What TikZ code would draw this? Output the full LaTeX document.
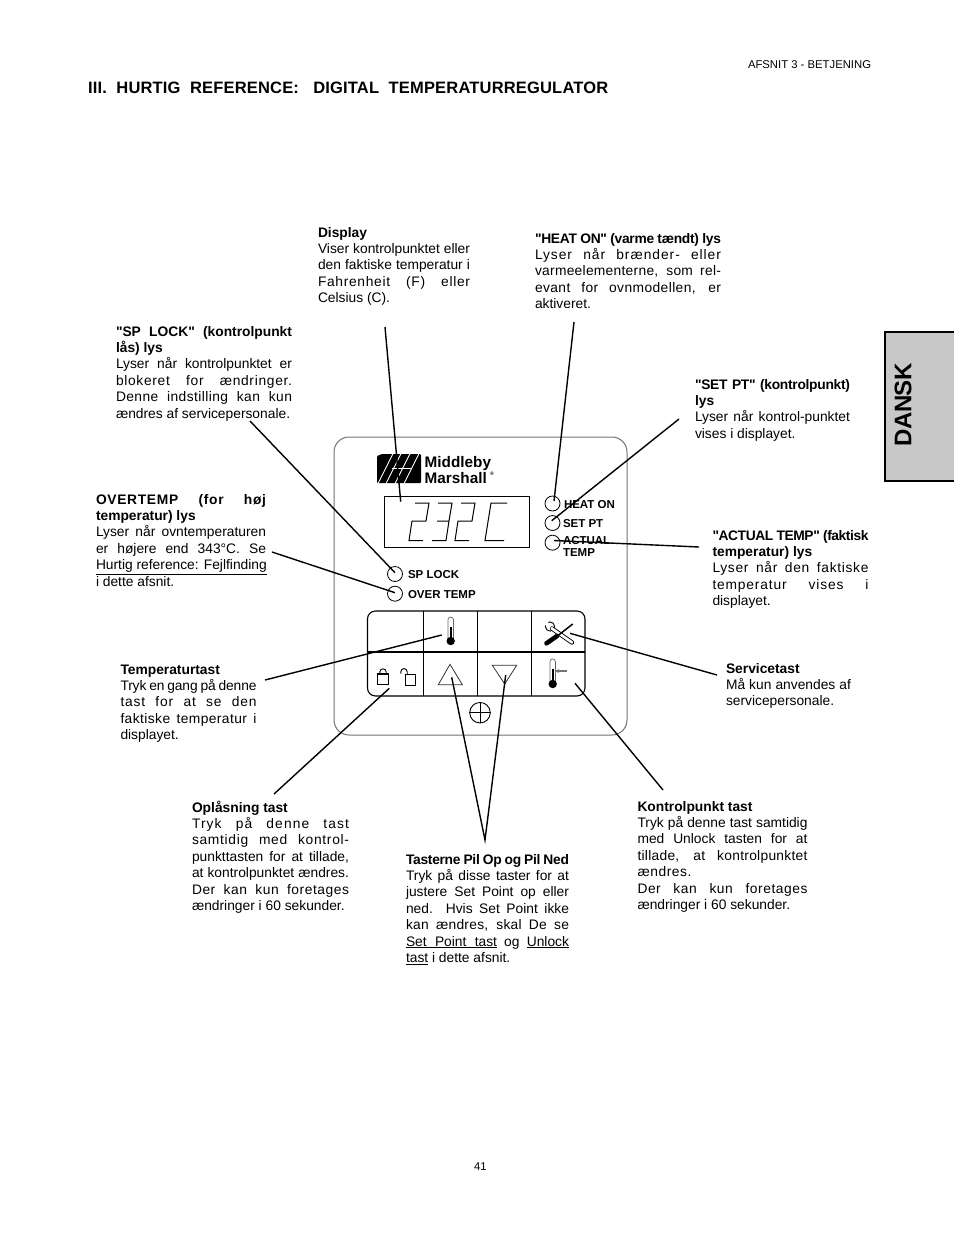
\documentclass[tikz,border=0pt]{standalone}
\usepackage{fontspec}
\setmainfont[Ligatures=TeXOff]{Liberation Sans}
\usetikzlibrary{arrows.meta}
\newcommand\jline[1]{\hbox to \linewidth{#1}}
\newcommand\sline[2]{\hbox to \linewidth{\addfontfeature{LetterSpace=#1}#2}}
\newcommand\lline[1]{\hbox{#1}}
\newcommand\para[2]{\parbox[t]{#1}{\setlength\baselineskip{16.4pt}\setlength\lineskiplimit{-20pt}\setlength\parindent{0pt}#2}}
\tikzset{
 x=1pt,y=-1pt,
 txt/.style={inner sep=0,outer sep=0,anchor=base west,font=\fontsize{13.8}{16.4}\selectfont},
 ledlab/.style={inner sep=0,outer sep=0,anchor=base west,font=\fontsize{11.5}{12}\selectfont\bfseries},
 lead/.style={draw=black,line width=1.4pt},
 led/.style={circle,draw=black,line width=.8pt,minimum size=15pt,inner sep=0,outer sep=0},
 seg/.style={line width=1pt,line join=miter},
 keyline/.style={line width=1.1pt},
 tube/.style={draw=black!60,fill=white,line width=.7pt},
}
\begin{document}
\begin{tikzpicture}
\useasboundingbox (0,0) rectangle (954,1235);
\fill[white] (0,0) rectangle (954,1235);
% tab
\path[fill={rgb,255:red,200;green,200;blue,200}] (885,332) rectangle (954,481);
\draw[line width=1.4pt] (954,332) -- (885,332) -- (885,481) -- (954,481);
\node[inner sep=0,rotate=90,font=\fontsize{24}{26}\selectfont\bfseries\addfontfeature{LetterSpace=-2}] (dansk) at (903,405) {DANSK};
% header
\node[txt,font=\fontsize{11.3}{12}\selectfont] (hdr) at (748,68) {AFSNIT 3 - BETJENING};
\node[txt,font=\fontsize{16.5}{18}\selectfont\bfseries\addfontfeature{LetterSpace=1.1}] (title) at (88,93) {III.\ \ HURTIG\ \ REFERENCE:\ \ \ DIGITAL\ \ TEMPERATURREGULATOR};
\node[txt,font=\fontsize{11.3}{12}\selectfont] (pg) at (474,1170) {41};
% panel
\draw[draw=black!55,line width=1pt,rounded corners=15pt] (334,437) rectangle (627,735);
% logo
\fill[black,rounded corners=1pt] (377,456) -- (382,454) -- (421,454) -- (421,483) -- (377,483) -- cycle;
\foreach \a in {378,386,395,404}{\draw[white,line width=.9pt] (\a,483.5) -- (\a+15,453.5);}
\draw[white,line width=1pt] (392,468.5) -- (412,468.5);
\node[inner sep=0,anchor=base west,font=\fontsize{15.3}{15}\selectfont\bfseries] (mid) at (424.5,467) {Middleby};
\node[inner sep=0,anchor=base west,font=\fontsize{15.3}{15}\selectfont\bfseries] (mar) at (424.5,483) {Marshall};
\node[inner sep=0,anchor=base west,font=\fontsize{5}{5}\selectfont\bfseries] (reg) at (490,475.5) {®};
% display
\node[draw=black,line width=.9pt,inner sep=0,minimum width=145pt,minimum height=51pt] (disp) at (456.5,521.5) {};
\begin{scope}[shift={(408,0)}]
 \draw[seg] (7,503)--(21,503)--(18,521)--(4,521)--(1,540.5)--(15,540.5);
\end{scope}
\begin{scope}[shift={(431,0)}]
 \draw[seg] (7,503)--(21,503)--(18,521)--(6,521) (18,521)--(15,540.5)--(1,540.5);
\end{scope}
\begin{scope}[shift={(454,0)}]
 \draw[seg] (7,503)--(21,503)--(18,521)--(4,521)--(1,540.5)--(15,540.5);
\end{scope}
\begin{scope}[shift={(484,0)}]
 \draw[seg] (23,503)--(7,503)--(1,540.5)--(20,540.5);
\end{scope}
% leds
\node[led] (ledheat) at (552.5,503.5) {};
\node[led] (ledset) at (552.5,523) {};
\node[led] (ledact) at (552.5,542.7) {};
\node[led] (ledsp) at (395,574) {};
\node[led] (ledover) at (395,593.7) {};
\node[ledlab] (lheat) at (564,508) {HEAT ON};
\node[ledlab] (lset) at (563,527) {SET PT};
\node[ledlab] (lact) at (563,544) {ACTUAL};
\node[ledlab] (ltemp) at (563,556) {TEMP};
\node[ledlab] (lsp) at (408,578) {SP LOCK};
\node[ledlab] (lover) at (408,598) {OVER TEMP};
% keypad
\draw[keyline,rounded corners=8pt] (367.5,611) rectangle (585,696);
\draw[keyline] (367.5,652) -- (585,652);
\draw[keyline] (423.5,611) -- (423.5,696);
\draw[keyline] (477.5,611) -- (477.5,696);
\draw[keyline] (531.5,611) -- (531.5,696);
% thermometer 1
\draw[tube] (447.9,640) -- (447.9,619.8) arc[start angle=180,end angle=360,radius=2.8] -- (453.5,640);
\fill (449.5,627) rectangle (451.9,640);
\fill (450.7,641) circle[radius=4.2];
% thermometer 2
\draw[tube] (550,682) -- (550,661.6) arc[start angle=180,end angle=360,radius=2.7] -- (555.4,682);
\fill (551.5,669) rectangle (553.9,682);
\fill (552.7,684) circle[radius=4.2];
\draw[black!55,line width=1.1pt,-{Stealth[length=4pt,width=4pt]}] (567,671) -- (555,671);
% locks
\draw[line width=1.1pt] (377.5,674) rectangle (388.5,684.7);
\draw[line width=.9pt] (379.8,674) -- (379.8,672) arc[start angle=180,end angle=360,radius=3.2] -- (386.2,674);
\draw[line width=1.1pt] (405.7,674.3) rectangle (415.7,685.3);
\draw[line width=.9pt] (400.8,673.5) -- (400.8,671.8) arc[start angle=180,end angle=360,radius=3.2] -- (407.2,674);
% triangles
\draw[black!80,line width=.8pt] (450,664.3) -- (438.3,684.7) -- (462.3,684.7) -- cycle;
\draw[black!80,line width=.8pt] (492.3,665.3) -- (516.7,665.3) -- (504.7,684) -- cycle;
% plus
\node[circle,draw=black,line width=.9pt,minimum size=20.5pt,inner sep=0] (plus) at (480,712.7) {};
\draw[line width=.9pt] (plus.west) -- (plus.east);
\draw[line width=.9pt] (plus.north) -- (plus.south);
% tools
\draw[line width=.9pt,fill=white] (550,626.5) circle[radius=4.6];
\draw[white,line width=3.8pt] (550.5,626.8) -- (544,621.5);
\draw[line width=4.4pt,line cap=round] (552,628.5) -- (572,642.5);
\draw[white,line width=2.6pt,line cap=round] (551.5,628.2) -- (572,642.5);
\draw[line width=1.5pt] (558,635.5) -- (572.7,624);
\draw[line width=4.6pt,line cap=round] (546.5,643.3) -- (557,636);
% coordinates for connectors
\coordinate (cdisp) at (385,327);
\coordinate (edisp) at (400.7,501.7);
\coordinate (cheat) at (574,322);
\coordinate (eheat) at (554,501);
\coordinate (cset) at (679,419);
\coordinate (eset) at (551.7,520.7);
\coordinate (cact) at (699,547);
\coordinate (eact) at (554,540.5);
\coordinate (csp) at (250,421);
\coordinate (esp) at (395,572.7);
\coordinate (cover) at (272,552);
\coordinate (eover) at (395,592.7);
\coordinate (ctemp) at (265,680);
\coordinate (etemp) at (441.7,635);
\coordinate (cserv) at (717,675);
\coordinate (eserv) at (570,633.3);
\coordinate (cunl) at (274,794);
\coordinate (eunl) at (389.3,688.3);
\coordinate (carrow) at (485,840);
\coordinate (eup) at (451.7,677.3);
\coordinate (edown) at (505.7,675);
\coordinate (cpt) at (663,790);
\coordinate (ept) at (575,683.3);
\draw[lead] (cdisp) -- (edisp);
\draw[lead] (cheat) -- (eheat);
\draw[lead] (cset) -- (eset);
\draw[lead] (cact) -- (eact);
\draw[lead] (csp) -- (esp);
\draw[lead] (cover) -- (eover);
\draw[lead] (ctemp) -- (etemp);
\draw[lead] (cserv) -- (eserv);
\draw[lead] (cunl) -- (eunl);
\draw[lead] (eup) -- (carrow) -- (edown);
\draw[lead] (cpt) -- (ept);
% paragraphs
\node[txt] (tdisp) at (318,237) {\para{152pt}{%
\lline{\bfseries Display}
\jline{Viser kontrolpunktet eller}
\jline{den faktiske temperatur i}
\sline{5}{Fahrenheit (F) eller}
\lline{Celsius (C).}}};
\node[txt] (theat) at (535,243) {\para{186pt}{%
\sline{-2}{\bfseries "HEAT ON" (varme tændt) lys}
\sline{7}{Lyser når brænder- eller}
\sline{2}{varmeelementerne, som rel-}
\sline{3}{evant for ovnmodellen, er}
\lline{aktiveret.}}};
\node[txt] (tsp) at (116,336) {\para{176pt}{%
\jline{\bfseries "SP LOCK" (kontrolpunkt}
\lline{\bfseries lås) lys}
\jline{Lyser når kontrolpunktet er}
\sline{5}{blokeret for ændringer.}
\sline{3}{Denne indstilling kan kun}
\lline{ændres af servicepersonale.}}};
\node[txt] (tset) at (695,389) {\para{155pt}{%
\sline{-2}{\bfseries "SET PT" (kontrolpunkt)}
\lline{\bfseries lys}
\jline{Lyser når kontrol-punktet}
\lline{vises i displayet.}}};
\node[txt] (tover) at (96,504) {\para{170pt}{%
\sline{5}{\bfseries OVERTEMP (for høj}
\lline{\bfseries temperatur) lys}
\jline{Lyser når ovntemperaturen}
\jline{er højere end 343°C. Se}
\jline{\underline{Hurtig reference: Fejlfinding}}
\lline{i dette afsnit.}}};
\node[txt] (tact) at (712.5,540) {\para{156pt}{%
\sline{-3}{\bfseries "ACTUAL TEMP" (faktisk}
\lline{\bfseries temperatur) lys}
\sline{5}{Lyser når den faktiske}
\sline{6}{temperatur vises i}
\lline{displayet.}}};
\node[txt] (ttemp) at (120.5,674) {\para{136pt}{%
\lline{\bfseries Temperaturtast}
\sline{-1}{Tryk en gang på denne}
\sline{6}{tast for at se den}
\sline{3}{faktiske temperatur i}
\lline{displayet.}}};
\node[txt] (tserv) at (726,673) {\para{125pt}{%
\lline{\bfseries Servicetast}
\jline{Må kun anvendes af}
\lline{servicepersonale.}}};
\node[txt] (tunl) at (192,812) {\para{157pt}{%
\lline{\bfseries Oplåsning tast}
\sline{8}{Tryk på denne tast}
\sline{5}{samtidig med kontrol-}
\jline{punkttasten for at tillade,}
\jline{at kontrolpunktet ændres.}
\sline{4}{Der kan kun foretages}
\lline{ændringer i 60 sekunder.}}};
\node[txt] (tpt) at (637.5,811) {\para{170pt}{%
\lline{\bfseries Kontrolpunkt tast}
\jline{Tryk på denne tast samtidig}
\jline{med Unlock tasten for at}
\sline{2}{tillade, at kontrolpunktet}
\lline{\addfontfeature{LetterSpace=4}ændres.}
\sline{4}{Der kan kun foretages}
\lline{ændringer i 60 sekunder.}}};
\node[txt] (tarrow) at (406,864) {\para{163pt}{%
\sline{-2}{\bfseries Tasterne Pil Op og Pil Ned}
\jline{Tryk på disse taster for at}
\jline{justere Set Point op eller}
\jline{ned.\ \ Hvis Set Point ikke}
\sline{2}{kan ændres, skal De se}
\jline{\underline{\hbox to 91pt{Set Point tast}} og \underline{Unlock}}
\lline{\underline{tast} i dette afsnit.}}};
\end{tikzpicture}
\end{document}
